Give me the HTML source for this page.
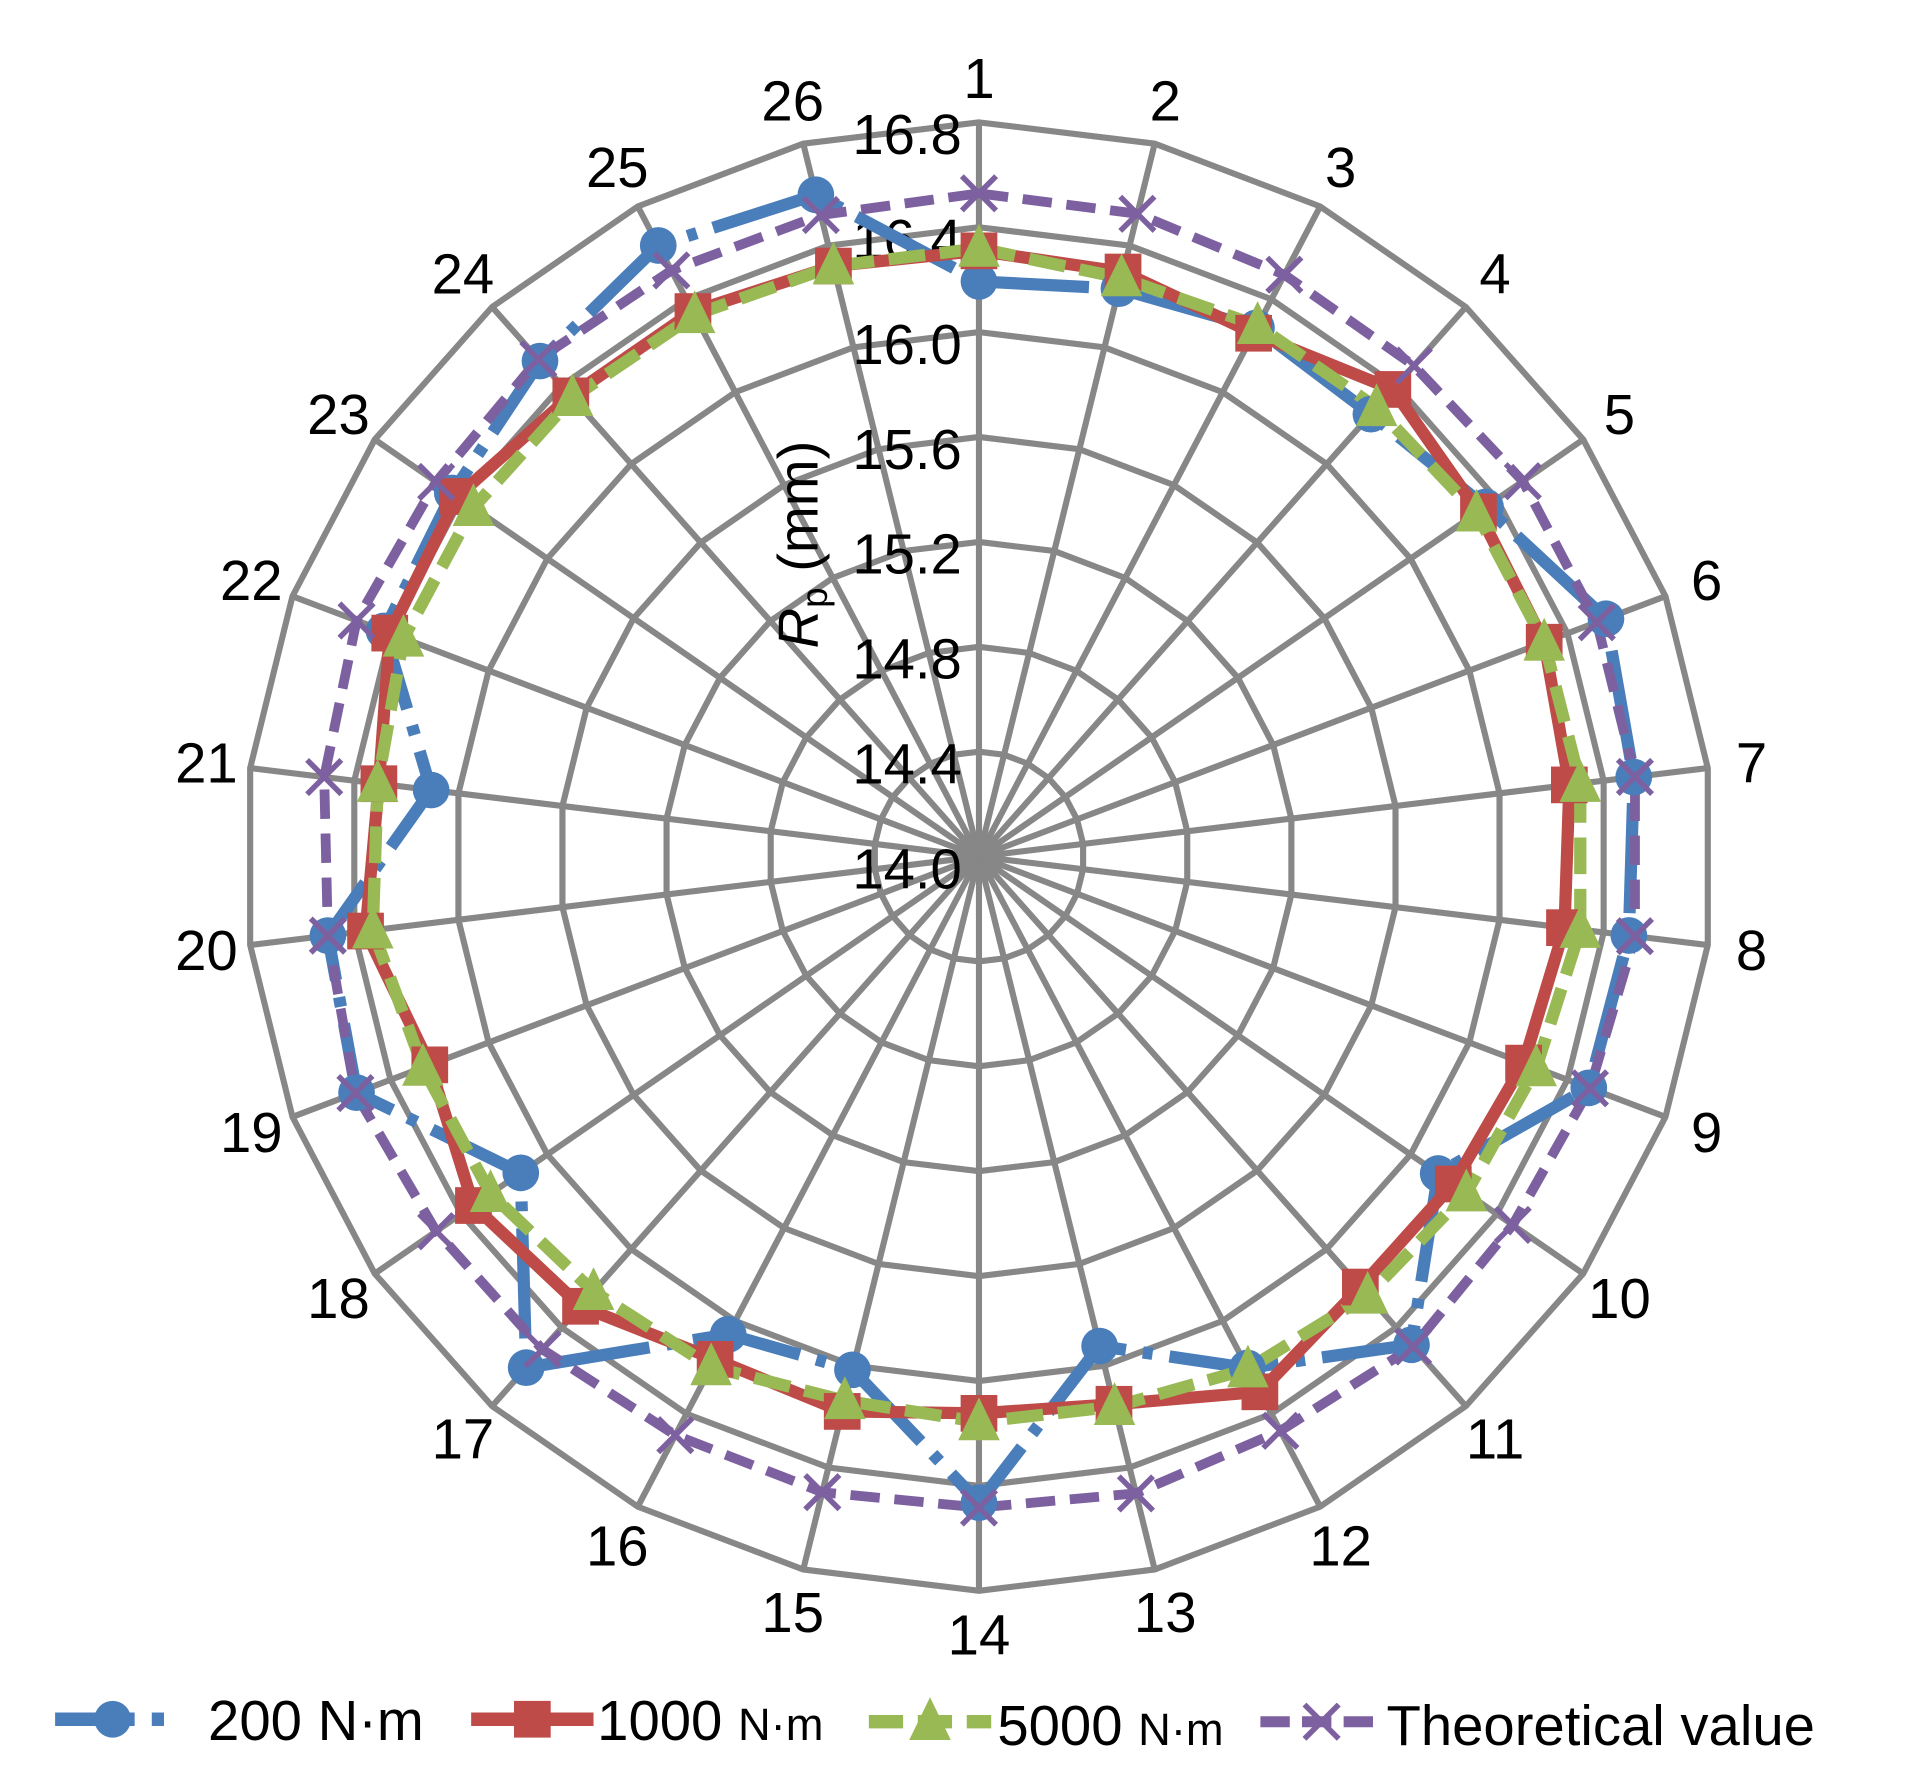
<!DOCTYPE html>
<html><head><meta charset="utf-8">
<style>html,body{margin:0;padding:0;background:#fff;}svg{display:block;}</style>
</head><body>
<svg id="s" width="1909" height="1789" viewBox="0 0 1560 1462" xmlns="http://www.w3.org/2000/svg" font-family="Liberation Sans, Arial, sans-serif">
<g id="grid"></g>
<g id="labels" font-size="46" fill="#000"></g>
<g id="data"></g>
<g id="legend"></g>
</svg>
<script>
var NS="http://www.w3.org/2000/svg";
function el(p,t,a,txt){var e=document.createElementNS(NS,t);for(var k in a)e.setAttribute(k,a[k]);if(txt!=null)e.textContent=txt;p.appendChild(e);return e;}
var cx=800,cy=700,R=600,N=26;
function pt(i,r){var a=i*2*Math.PI/N;return [cx+r*Math.sin(a),cy-r*Math.cos(a)];}
var g=document.getElementById('grid');
for(var k=1;k<=7;k++){var r=k*R/7,ps=[];for(var i=0;i<N;i++){var p=pt(i,r);ps.push(p[0].toFixed(1)+","+p[1].toFixed(1));}
el(g,'polygon',{points:ps.join(' '),fill:'none',stroke:'#878787','stroke-width':5});}
for(var i=0;i<N;i++){var p=pt(i,R);el(g,'line',{x1:cx,y1:cy,x2:p[0],y2:p[1],stroke:'#878787','stroke-width':5});}
var L=document.getElementById('labels');
for(var i=0;i<N;i++){var p=pt(i,636);el(L,'text',{x:p[0],y:p[1]+16,'text-anchor':'middle'},String(i+1));}
var ticks=["14.0","14.4","14.8","15.2","15.6","16.0","16.4","16.8"];
for(var k=0;k<8;k++){el(L,'text',{x:786,y:cy-k*R/7+26,'text-anchor':'end'},ticks[k]);}
var t=el(L,'text',{transform:'translate(668,445) rotate(-90)','text-anchor':'middle'});
el(t,'tspan',{'font-style':'italic'},'R');el(t,'tspan',{'font-size':'30',dy:'8'},'p');el(t,'tspan',{dy:'-8'},' (mm)');
var theo=[542,541,537,536,540,540,540,540,534,530,535,530,536,532,535,534,538,539,545,536,539,544,539,543,541,540];
var red=[495,492,483,510,496,494,486,482,476,471,470,494,461,455,467,464,491,502,480,505,494,515,518,503,503,497];
var grn=[497,487,490,490,494,494,495,495,487,484,479,473,463,462,458,471,475,485,486,499,495,503,502,501,500,497];
var blu=[470,478,488,483,503,548,539,535,533,456,533,472,412,528,432,441,558,455,544,536,451,520,523,541,564,557];
var D=document.getElementById('data');
function series(v,col,w,dash){var ps=[];for(var i=0;i<=N;i++){var p=pt(i%N,v[i%N]);ps.push(p[0].toFixed(1)+","+p[1].toFixed(1));}
var a={points:ps.join(' '),fill:'none',stroke:col,'stroke-width':w,'stroke-linejoin':'round'};if(dash)a['stroke-dasharray']=dash;el(D,'polyline',a);}
function mk(p,x,y,type,col){
if(type=='c')el(p,'circle',{cx:x,cy:y,r:15,fill:col});
if(type=='s')el(p,'rect',{x:x-15,y:y-15,width:30,height:30,fill:col});
if(type=='t')el(p,'polygon',{points:(x)+','+(y-20)+' '+(x+17)+','+(y+15)+' '+(x-17)+','+(y+15),fill:col});
if(type=='x'){el(p,'line',{x1:x-14,y1:y-14,x2:x+14,y2:y+14,stroke:col,'stroke-width':4.5});el(p,'line',{x1:x-14,y1:y+14,x2:x+14,y2:y-14,stroke:col,'stroke-width':4.5});}}
var BL='#4a7ebb',RD='#be4b48',GR='#98b954',PU='#7d60a0';
series(blu,BL,10,'90 14 8 14');
series(red,RD,10);
series(grn,GR,10,'30 12');
series(theo,PU,8,'24 12');
for(var i=0;i<N;i++){var p;
p=pt(i,blu[i]);mk(D,p[0],p[1],'c',BL);
p=pt(i,red[i]);mk(D,p[0],p[1],'s',RD);
p=pt(i,grn[i]);mk(D,p[0],p[1],'t',GR);
p=pt(i,theo[i]);mk(D,p[0],p[1],'x',PU);}
var G=document.getElementById('legend');var ly=1405;
el(G,'line',{x1:45,y1:ly,x2:110,y2:ly,stroke:BL,'stroke-width':11});el(G,'line',{x1:124,y1:ly,x2:134,y2:ly,stroke:BL,'stroke-width':11});mk(G,92,ly,'c',BL);
el(G,'text',{x:170,y:ly+17,'font-size':46},'200 N·m');
el(G,'line',{x1:385,y1:ly,x2:485,y2:ly,stroke:RD,'stroke-width':11});mk(G,435,ly,'s',RD);
var t2=el(G,'text',{x:488,y:ly+17,'font-size':46},'1000 ');el(t2,'tspan',{'font-size':37},'N·m');
el(G,'line',{x1:710,y1:ly+2,x2:810,y2:ly+2,stroke:GR,'stroke-width':11,'stroke-dasharray':'28 12'});mk(G,760,ly+2,'t',GR);
var t3=el(G,'text',{x:815,y:ly+21,'font-size':46},'5000 ');el(t3,'tspan',{'font-size':37},'N·m');
el(G,'line',{x1:1030,y1:ly+2,x2:1130,y2:ly+2,stroke:PU,'stroke-width':9,'stroke-dasharray':'24 10'});mk(G,1080,ly+2,'x',PU);
el(G,'text',{x:1133,y:ly+21,'font-size':46},'Theoretical value');
</script>
</body></html>
